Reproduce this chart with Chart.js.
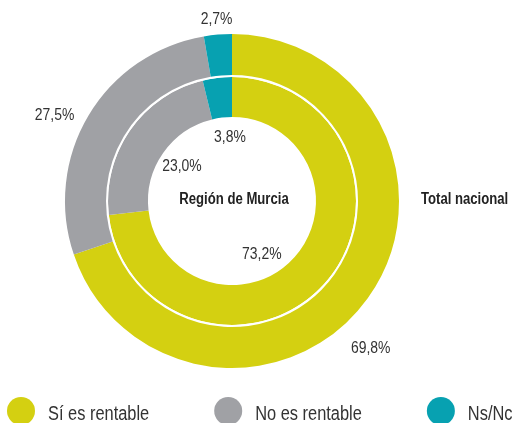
<!DOCTYPE html>
<html>
<head>
<meta charset="utf-8">
<script src="https://cdn.jsdelivr.net/npm/chart.js@4.4.1/dist/chart.umd.min.js"></script>
<style>
  html, body { margin: 0; padding: 0; background: #fff; }
  #wrap { width: 513px; height: 423px; position: relative; overflow: hidden; }
</style>
</head>
<body>
<div id="wrap"><canvas id="myChart" width="513" height="423"></canvas></div>
<script>
const categories = ["Sí es rentable", "No es rentable", "Ns/Nc"];
const totalNacional = [69.8, 27.5, 2.7];
const regionMurcia = [73.2, 23.0, 3.8];
const ringNames = ["Total nacional", "Región de Murcia"];
const sliceColors = ["#d4d011", "#a0a1a5", "#07a1b1"];

const FONT = '"Liberation Sans", Arial, sans-serif';
const NARROW = 0.82; // squeeze Arial-like glyphs into a narrow face

// angle tweak (deg) and distance from centre for the % labels, per ring
const labelSpots = {
  0: { r: [202, 197, 182], nudge: [11, -5, 0] },
  2: { r: [61, 61, 64], nudge: [19, 0, 5] },
};

function narrowText(ctx, text, x, y, align) {
  const w = ctx.measureText(text).width * NARROW;
  let left = x;
  if (align === "center") left = x - w / 2;
  if (align === "right") left = x - w;
  ctx.save();
  ctx.translate(left, y);
  ctx.scale(NARROW, 1);
  ctx.textAlign = "left";
  ctx.fillText(text, 0, 0);
  ctx.restore();
  return w;
}

const pctLabels = {
  id: "pctLabels",
  afterDatasetsDraw(chart) {
    const ctx = chart.ctx;
    ctx.save();
    ctx.fillStyle = "#333";
    ctx.font = "17px " + FONT;
    ctx.textBaseline = "middle";
    Object.keys(labelSpots).forEach((di) => {
      const meta = chart.getDatasetMeta(+di);
      const spot = labelSpots[di];
      meta.data.forEach((arc, i) => {
        const mid = (arc.startAngle + arc.endAngle) / 2 + (spot.nudge[i] * Math.PI) / 180;
        const x = arc.x + Math.cos(mid) * spot.r[i];
        const y = arc.y + Math.sin(mid) * spot.r[i];
        const v = chart.data.datasets[di].data[i];
        narrowText(ctx, v.toFixed(1).replace(".", ",") + "%", x, y, "center");
      });
    });

    // ring titles
    const c = chart.getDatasetMeta(0).data[0];
    ctx.font = "bold 16px " + FONT;
    ctx.fillStyle = "#222";
    narrowText(ctx, ringNames[1], c.x + 2, c.y - 1, "center");
    narrowText(ctx, ringNames[0], c.x + 189, c.y - 1, "left");

    // legend
    ctx.font = "20px " + FONT;
    let lx = 7;
    const ly = 411;
    categories.forEach((name, i) => {
      ctx.beginPath();
      ctx.fillStyle = sliceColors[i];
      ctx.arc(lx + 14, ly, 14, 0, Math.PI * 2);
      ctx.fill();
      ctx.fillStyle = "#333";
      const w = narrowText(ctx, name, lx + 41, ly + 3, "left");
      lx += 41 + w + 65;
    });
    ctx.restore();
  },
};

const ctx = document.getElementById("myChart").getContext("2d");

new Chart(ctx, {
  type: "doughnut",
  data: {
    labels: categories,
    datasets: [
      { data: totalNacional, backgroundColor: sliceColors, borderWidth: 0, weight: 41 },
      { data: [1], backgroundColor: ["#ffffff"], borderWidth: 0, weight: 2 }, // white gap between rings
      { data: regionMurcia, backgroundColor: sliceColors, borderWidth: 0, weight: 40 },
    ],
  },
  options: {
    responsive: false,
    animation: false,
    radius: 167,
    cutout: "50.3%",
    layout: { padding: { left: 0, right: 49, top: 0, bottom: 21 } },
    plugins: {
      legend: { display: false },
      tooltip: { enabled: false },
    },
    hoverOffset: 0,
  },
  plugins: [pctLabels],
});
</script>
</body>
</html>
